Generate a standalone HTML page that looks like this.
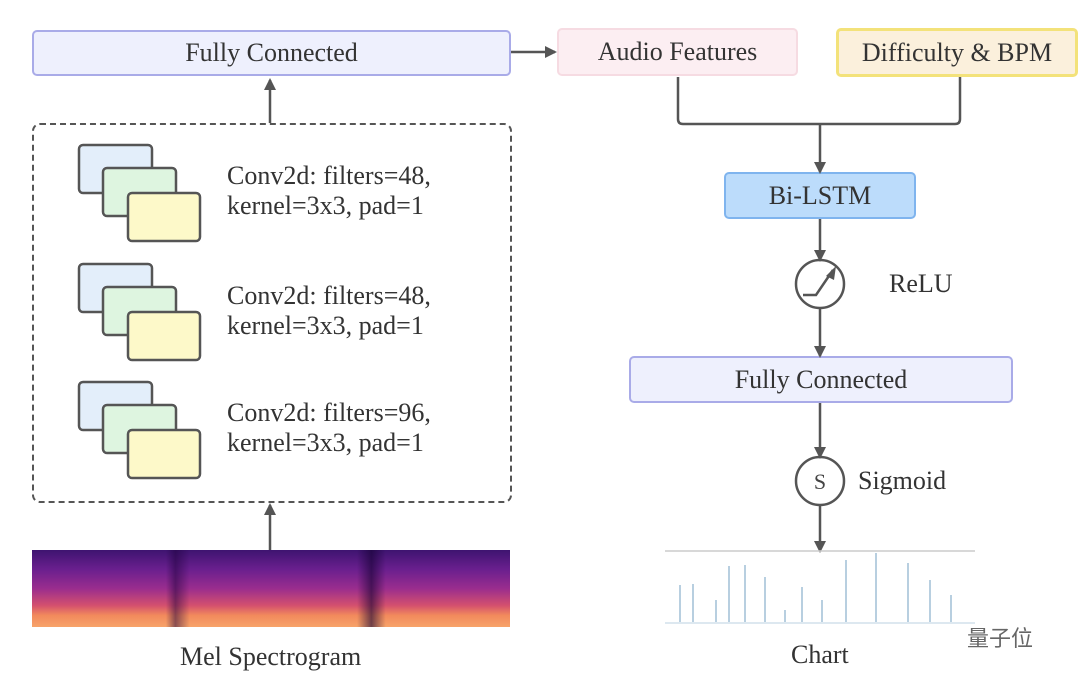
<!DOCTYPE html>
<html><head><style>
body{margin:0;width:1080px;height:685px;background:#fff;position:relative;overflow:hidden;font-family:"Liberation Serif",serif;color:#333}
.b{position:absolute;box-sizing:border-box;border-radius:5px;display:flex;align-items:center;justify-content:center;font-size:26px}
.t{position:absolute;font-size:26px;line-height:30px;white-space:nowrap}
</style></head><body>
<div class="b" style="left:32px;top:30px;width:479px;height:46px;background:#eef0fd;border:2px solid #a9abe8">Fully Connected</div>
<div class="b" style="left:557px;top:28px;width:241px;height:48px;background:#fceef2;border:2px solid #f6dbe2">Audio Features</div>
<div class="b" style="left:836px;top:28px;width:242px;height:49px;background:#fbf0dc;border:3px solid #f3e27a">Difficulty &amp; BPM</div>
<div class="b" style="left:724px;top:172px;width:192px;height:47px;background:#bcdcfb;border:2px solid #7fb4ee">Bi-LSTM</div>
<div class="b" style="left:629px;top:356px;width:384px;height:47px;background:#eef0fd;border:2px solid #a9abe8">Fully Connected</div>
<div style="position:absolute;left:32px;top:123px;width:480px;height:380px;box-sizing:border-box;border:2.5px dashed #555;border-radius:8px"></div>
<div style="position:absolute;left:32px;top:550px;width:478px;height:77px;background:linear-gradient(180deg,#3e1470 0%,#6a1f8e 25%,#9a2d8e 50%,#d4506e 72%,#f28a5c 85%,#f7a36a 100%)"></div>
<div style="position:absolute;left:32px;top:550px;width:478px;height:77px;background:linear-gradient(90deg,transparent 0,transparent 28%,rgba(30,0,60,.5) 30%,transparent 33%,transparent 68%,rgba(20,0,50,.6) 71%,transparent 74%);"></div>
<div class="t" style="left:180px;top:642px">Mel Spectrogram</div>
<div class="t" style="left:791px;top:640px">Chart</div>
<div class="t" style="left:889px;top:269px">ReLU</div>
<div class="t" style="left:858px;top:466px">Sigmoid</div>
<div class="t" style="left:227px;top:161px">Conv2d: filters=48,<br>kernel=3x3, pad=1</div>
<div class="t" style="left:227px;top:281px">Conv2d: filters=48,<br>kernel=3x3, pad=1</div>
<div class="t" style="left:227px;top:398px">Conv2d: filters=96,<br>kernel=3x3, pad=1</div>
<div class="t" style="left:967px;top:622px;font-family:'Noto Sans CJK SC',sans-serif;font-size:22px;color:#666">量子位</div>
<svg width="1080" height="685" style="position:absolute;left:0;top:0">
<defs><marker id="a" markerWidth="12" markerHeight="12" refX="10" refY="6" orient="auto" markerUnits="userSpaceOnUse"><path d="M0,0L12,6L0,12z" fill="#555"/></marker></defs>
<g stroke="#555" stroke-width="2.5" fill="none">
<path d="M511 52H555" marker-end="url(#a)"/>
<path d="M270 123V80" marker-end="url(#a)"/>
<path d="M270 550V505" marker-end="url(#a)"/>
<path d="M678 77V119q0 5 5 5H955q5 0 5-5V77"/>
<path d="M820 124V172" marker-end="url(#a)"/>
<path d="M820 219V260" marker-end="url(#a)"/>
<path d="M820 308V356" marker-end="url(#a)"/>
<path d="M820 403V457" marker-end="url(#a)"/>
<path d="M820 505V551" marker-end="url(#a)"/>
<circle cx="820" cy="284" r="24"/>
<path d="M803 295H816L833 270"/>
<circle cx="820" cy="481" r="24"/>
</g>
<text x="820" y="489" font-size="22" text-anchor="middle" fill="#444" font-family="Liberation Serif">S</text>
<path d="M826 276L836 266L834 280z" fill="#555"/>
<g stroke="#555" stroke-width="2.5">
<rect x="79" y="145" width="73" height="48" rx="4" fill="#e3eefa"/>
<rect x="103" y="168" width="73" height="48" rx="4" fill="#def5e0"/>
<rect x="128" y="193" width="72" height="48" rx="4" fill="#fdf9c9"/>
<rect x="79" y="264" width="73" height="48" rx="4" fill="#e3eefa"/>
<rect x="103" y="287" width="73" height="48" rx="4" fill="#def5e0"/>
<rect x="128" y="312" width="72" height="48" rx="4" fill="#fdf9c9"/>
<rect x="79" y="382" width="73" height="48" rx="4" fill="#e3eefa"/>
<rect x="103" y="405" width="73" height="48" rx="4" fill="#def5e0"/>
<rect x="128" y="430" width="72" height="48" rx="4" fill="#fdf9c9"/>
</g>
<path d="M665 551H975" stroke="#ccc" stroke-width="1.5"/>
<g stroke="#b8cfe0" stroke-width="2">
<path d="M680 622V585M693 622V584M729 622V566M745 622V565M765 622V577M802 622V587M822 622V600M846 622V560M876 622V553M908 622V563M930 622V580M951 622V595M716 622V600M785 622V610"/>
<path d="M665 623H975" stroke="#dde8f0"/>
</g>
</svg>
</body></html>
